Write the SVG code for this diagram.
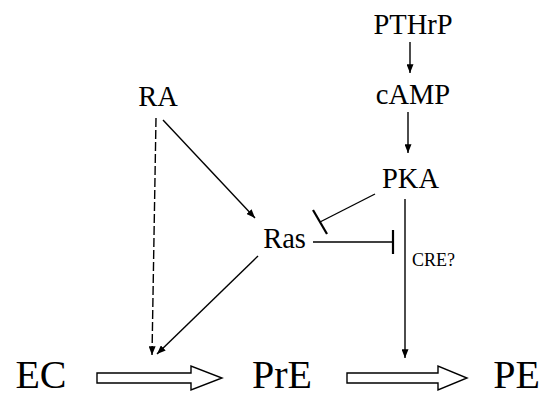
<svg xmlns="http://www.w3.org/2000/svg" width="548" height="397" viewBox="0 0 548 397">
<style>
.t{font-family:"Liberation Serif","Times New Roman",serif;fill:#000;text-anchor:middle}
.m{font-size:28.5px}
.b{font-size:40px}
.s{font-size:18px;text-anchor:start}
.l{stroke:#000;stroke-width:1.4;fill:none}
.d{stroke-dasharray:9 3}
.bar{stroke:#000;stroke-width:2.2;fill:none}
.h{fill:#fff;stroke:#000;stroke-width:1.4;stroke-linejoin:miter}
</style>
<defs>
<marker id="ah" viewBox="0 0 10 8" refX="10" refY="4" markerWidth="9" markerHeight="7" markerUnits="userSpaceOnUse" orient="auto">
<path d="M0,0 L10,4 L0,8 z" fill="#000"/>
</marker>
</defs>
<rect width="548" height="397" fill="#fff"/>
<g id="connectors">
<line class="l" x1="410" y1="42" x2="410" y2="73" marker-end="url(#ah)"/>
<line class="l" x1="408" y1="112" x2="408" y2="153" marker-end="url(#ah)"/>
<line class="l" x1="163" y1="120" x2="255" y2="218" marker-end="url(#ah)"/>
<line class="l d" x1="156" y1="118" x2="152" y2="355" marker-end="url(#ah)"/>
<line class="l" x1="258" y1="256" x2="157" y2="354" marker-end="url(#ah)"/>
<line class="l" x1="405" y1="199" x2="405" y2="358" marker-end="url(#ah)"/>
<line class="l" x1="375" y1="194" x2="320" y2="222"/>
<line class="bar" x1="313" y1="210" x2="327" y2="234"/>
<line class="l" x1="313" y1="242" x2="393" y2="242"/>
<line class="bar" x1="393" y1="230" x2="393" y2="254"/>
<polygon class="h" points="97,373 191,373 191,366 222,378 191,390 191,383 97,383"/>
<polygon class="h" points="347,373 438,373 438,366 467,378 438,390 438,383 347,383"/>
</g>
<g id="PTHrP"><text class="t m" x="413" y="34">PTHrP</text></g>
<g id="cAMP"><text class="t m" x="413" y="104">cAMP</text></g>
<g id="PKA"><text class="t m" x="410.5" y="188">PKA</text></g>
<g id="RA"><text class="t m" x="158" y="106">RA</text></g>
<g id="Ras"><text class="t m" x="284.5" y="248">Ras</text></g>
<g id="CRE"><text class="t s" x="412" y="266">CRE?</text></g>
<g id="EC"><text class="t b" x="41" y="388">EC</text></g>
<g id="PrE"><text class="t b" x="282" y="388">PrE</text></g>
<g id="PE"><text class="t b" x="516.5" y="388">PE</text></g>
</svg>
